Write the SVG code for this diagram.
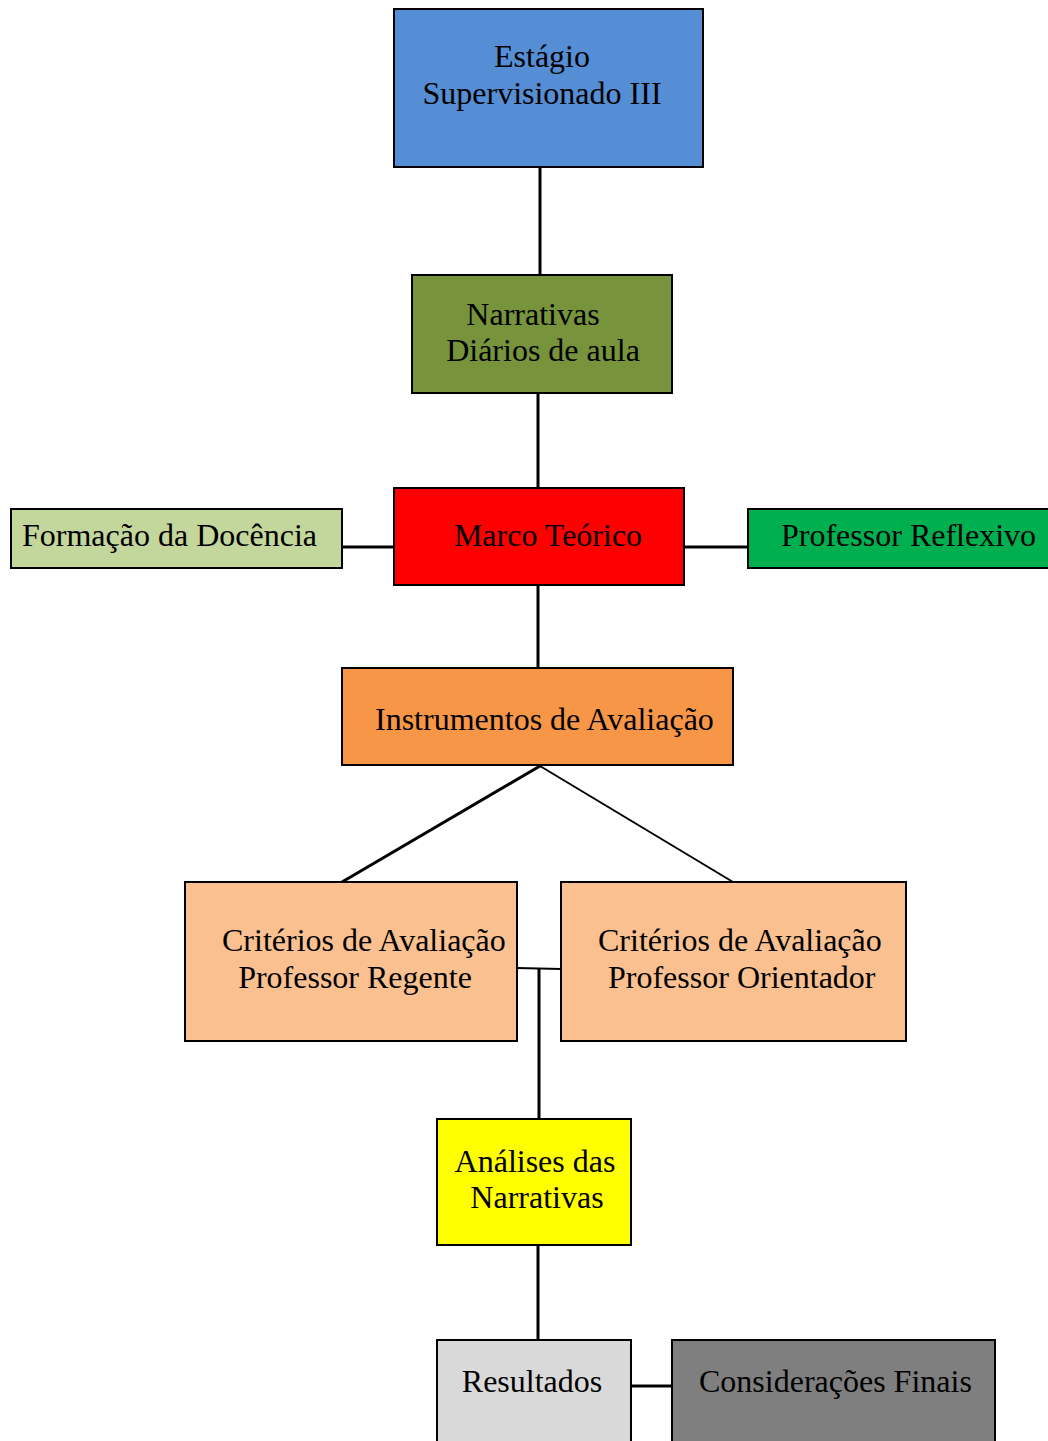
<svg xmlns="http://www.w3.org/2000/svg" width="1048" height="1441" viewBox="0 0 1048 1441">
<style>
rect{stroke:#000;stroke-width:2}
text{font-family:"Liberation Serif","Times New Roman",serif;font-size:32px;fill:#000}
.c{text-anchor:middle}
.ln{stroke:#000;stroke-width:3;fill:none}
</style>
<rect x="0" y="0" width="1048" height="1441" fill="#fff" style="stroke:none"/>
<g id="connectors">
<line class="ln" x1="540" y1="167" x2="540" y2="275"/>
<line class="ln" x1="538" y1="393" x2="538" y2="488"/>
<line class="ln" x1="342" y1="547" x2="394" y2="547"/>
<line class="ln" x1="684" y1="547" x2="748" y2="547"/>
<line class="ln" x1="538" y1="585" x2="538" y2="668"/>
<line class="ln" x1="540" y1="766" x2="342" y2="882"/>
<line class="ln" style="stroke-width:2" x1="540" y1="766" x2="733" y2="882"/>
<line class="ln" style="stroke-width:2" x1="517" y1="968" x2="561" y2="969"/>
<line class="ln" x1="539" y1="969" x2="539" y2="1119"/>
<line class="ln" x1="538" y1="1245" x2="538" y2="1340"/>
<line class="ln" x1="631" y1="1386" x2="672" y2="1386"/>
</g>
<g id="n1"><rect x="394" y="9" width="309" height="158" fill="#558ED5"/>
<text class="c" x="542" y="67">Estágio</text><text class="c" x="542" y="104">Supervisionado III</text></g>
<g id="n2"><rect x="412" y="275" width="260" height="118" fill="#77933C"/>
<text class="c" x="533" y="325">Narrativas</text><text class="c" x="543" y="361">Diários de aula</text></g>
<g id="n3"><rect x="394" y="488" width="290" height="97" fill="#FF0000"/>
<text class="c" x="548" y="546">Marco Teórico</text></g>
<g id="n4"><rect x="11" y="509" width="331" height="59" fill="#C3D69B"/>
<text x="22" y="546">Formação da Docência</text></g>
<g id="n5"><rect x="748" y="509" width="310" height="59" fill="#00B050"/>
<text x="781" y="546">Professor Reflexivo</text></g>
<g id="n6"><rect x="342" y="668" width="391" height="97" fill="#F79646"/>
<text x="375" y="730">Instrumentos de Avaliação</text></g>
<g id="n7"><rect x="185" y="882" width="332" height="159" fill="#FAC090"/>
<text x="222" y="951">Critérios de Avaliação</text><text class="c" x="355" y="988">Professor Regente</text></g>
<g id="n8"><rect x="561" y="882" width="345" height="159" fill="#FAC090"/>
<text x="598" y="951">Critérios de Avaliação</text><text x="608" y="988">Professor Orientador</text></g>
<g id="n9"><rect x="437" y="1119" width="194" height="126" fill="#FFFF00"/>
<text class="c" x="535" y="1172">Análises das</text><text class="c" x="537" y="1208">Narrativas</text></g>
<g id="n10"><rect x="437" y="1340" width="194" height="120" fill="#D9D9D9"/>
<text class="c" x="532" y="1392">Resultados</text></g>
<g id="n11"><rect x="672" y="1340" width="323" height="120" fill="#7F7F7F"/>
<text x="699" y="1392">Considerações Finais</text></g>
</svg>
